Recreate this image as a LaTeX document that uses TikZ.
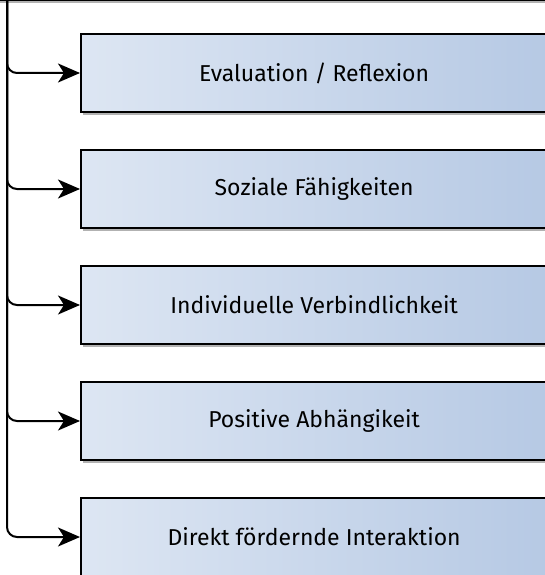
\documentclass[tikz,border=0pt]{standalone}
\usepackage{fontspec}
\setmainfont{Fira Sans}
\usetikzlibrary{arrows.meta,shadows}
\definecolor{hell}{HTML}{DDE6F3}
\definecolor{dunkel}{HTML}{B6C9E4}
\tikzset{
  stufe/.style={draw=black,line width=2.2pt,anchor=west,minimum width=466pt,minimum height=78pt,
    left color=hell,right color=dunkel,
    drop shadow={shadow xshift=2pt,shadow yshift=-3pt,opacity=.3,fill=black},
    font=\fontsize{23}{27}\selectfont},
  pfeil/.style={line width=2pt,rounded corners=10pt,-{Stealth[length=22pt,width=19pt,inset=6pt]}}
}
\begin{document}
\begin{tikzpicture}[x=1pt,y=-1pt]
\useasboundingbox (0,0) rectangle (545,575);
\node[draw=black,line width=2pt,fill=white,minimum width=600pt,minimum height=60pt,anchor=south,
  drop shadow={shadow xshift=0pt,shadow yshift=-3pt,opacity=.3,fill=black}] (oben) at (272,1) {};
\coordinate (stamm) at (7,1);
\node[stufe] (e1) at (80,73) {Evaluation / Reflexion};
\node[stufe] (e2) at (80,189) {Soziale Fähigkeiten};
\node[stufe] (e3) at (80,305) {Individuelle Verbindlichkeit};
\node[stufe] (e4) at (80,421) {Positive Abhängikeit};
\node[stufe] (e5) at (80,537) {Direkt fördernde Interaktion};
\draw[pfeil] (stamm) |- (e1.west);
\draw[pfeil] (stamm) |- (e2.west);
\draw[pfeil] (stamm) |- (e3.west);
\draw[pfeil] (stamm) |- (e4.west);
\draw[pfeil] (stamm) |- (e5.west);
\end{tikzpicture}
\end{document}
